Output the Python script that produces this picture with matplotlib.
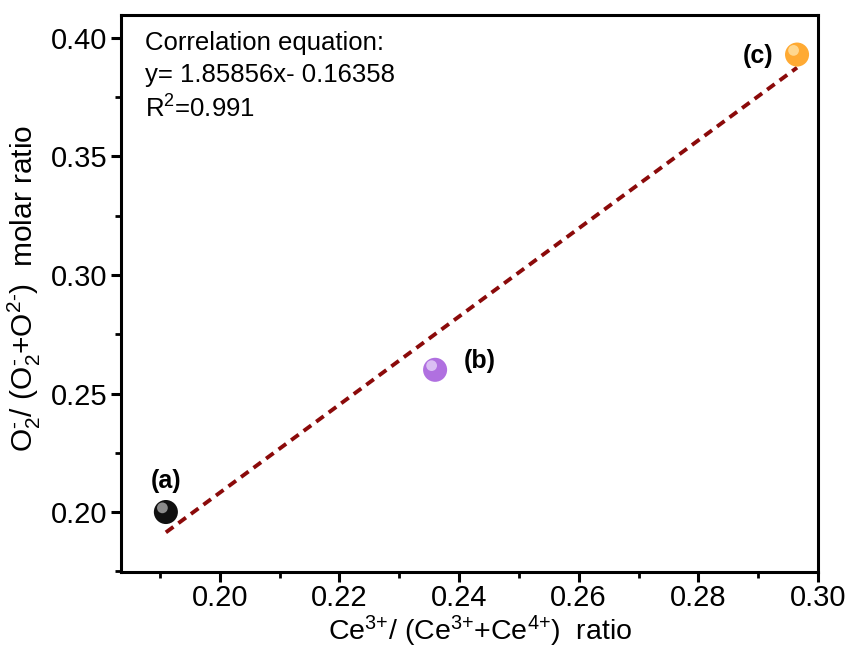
import numpy as np
import matplotlib
matplotlib.use('Agg')
import matplotlib.pyplot as plt
from matplotlib.ticker import MultipleLocator, FormatStrFormatter
import matplotlib.transforms as mtransforms

plt.rcParams['font.family'] = ['Liberation Sans', 'DejaVu Sans']
plt.rcParams['mathtext.fontset'] = 'custom'
plt.rcParams['mathtext.rm'] = 'Liberation Sans'
plt.rcParams['mathtext.it'] = 'Liberation Sans:italic'
plt.rcParams['mathtext.bf'] = 'Liberation Sans:bold'

# %% data
ce_ratio = [0.191, 0.236, 0.2965]
o_ratio = [0.200, 0.260, 0.393]
labels = ['(a)', '(b)', '(c)']
colors = ['#101010', '#b070e0', '#ffaa33']
highlight = ['#a0a0a0', '#e2cdf7', '#ffe0a0']
slope, intercept = 1.85856, -0.16358
fit_x = [0.191, 0.2965]

# %% plot
fig = plt.figure(figsize=(8.48, 6.57), dpi=100)
ax = fig.add_axes([0.1427, 0.1294, 0.8219, 0.8478])

fx = np.array(fit_x)
ax.plot(fx, slope * fx + intercept, ls=(0, (2.4, 1.6)), color='#8b0a0a', lw=2.8, zorder=2)

ax.scatter(ce_ratio, o_ratio, s=300, c=colors, zorder=3, edgecolors='none')
hl = mtransforms.offset_copy(ax.transData, fig=fig, x=-2.5, y=3.0, units='points')
ax.scatter(ce_ratio, o_ratio, s=60, c=highlight, zorder=4, edgecolors='none', transform=hl, alpha=0.85)

offsets = [(0, 22), (32, 6), (-28, -1)]
for x, y, lab, off in zip(ce_ratio, o_ratio, labels, offsets):
    ax.annotate(lab, (x, y), xytext=off, textcoords='offset points', ha='center', va='center',
                fontsize=18, fontweight='bold')

ax.text(0.035, 0.972, 'Correlation equation:\ny= 1.85856x- 0.16358\nR$^2$=0.991',
        transform=ax.transAxes, ha='left', va='top', fontsize=18.5, linespacing=1.42)

ax.set_xlim(0.1835, 0.30)
ax.set_ylim(0.1747, 0.4097)
ax.xaxis.set_major_locator(MultipleLocator(0.02))
ax.xaxis.set_minor_locator(MultipleLocator(0.01))
ax.yaxis.set_major_locator(MultipleLocator(0.05))
ax.yaxis.set_minor_locator(MultipleLocator(0.025))
ax.xaxis.set_major_formatter(FormatStrFormatter('%.2f'))
ax.yaxis.set_major_formatter(FormatStrFormatter('%.2f'))

for s in ax.spines.values():
    s.set_linewidth(2.2)
ax.tick_params(which='major', direction='out', length=7, width=2.2, labelsize=21, pad=3)
ax.tick_params(which='minor', direction='out', length=4, width=2.0)
ax.tick_params(axis='x', pad=2)

ax.set_xlabel(r'Ce$^{\text{3+}}$/ (Ce$^{\text{3+}}$+Ce$^{\text{4+}}$)  ratio', fontsize=20.5, labelpad=0)
ax.xaxis.set_label_coords(0.515, -0.075)
ax.set_ylabel(r'O$_2^{\text{-}}$/ (O$_2^{\text{-}}$+O$^{\text{2-}}$)  molar ratio', fontsize=21.5, labelpad=3)
ax.yaxis.set_label_coords(-0.112, 0.51)

fig.savefig('out.png', dpi=100)
